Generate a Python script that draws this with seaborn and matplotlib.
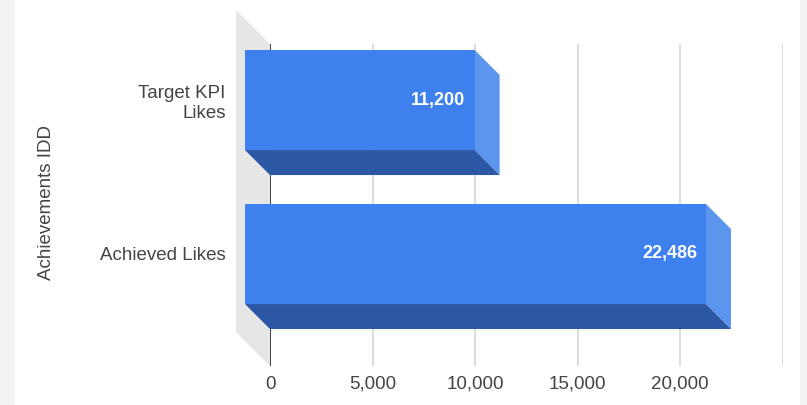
"""
3D-style horizontal bar chart: target vs achieved likes
"""
import numpy as np
import pandas as pd
import matplotlib
matplotlib.use("Agg")
import matplotlib.pyplot as plt
import seaborn as sns
from matplotlib.patches import Polygon, Rectangle
from matplotlib.transforms import ScaledTranslation

# data
categories = ["Target KPI\nLikes", "Achieved Likes"]
likes = [11200, 22486]
x_ticks = [0, 5000, 10000, 15000, 20000, 25000]
x_tick_labels = ["0", "5,000", "10,000", "15,000", "20,000", ""]
axis_title = "Achievements IDD"

FRONT = "#3d80ee"
SIDE = "#5b95ee"
BOTTOM = "#2b57a5"
WALL = "#e6e6e6"
GRID = "#d9d9d9"
TEXT = "#444444"

sns.set_style("white")
plt.rcParams["font.family"] = ["Liberation Sans", "DejaVu Sans"]

W, H = 807, 405
fig = plt.figure(figsize=(W / 100, H / 100), dpi=100)
ax = fig.add_axes([270 / W, (H - 366) / H, (782.5 - 270) / W, (366 - 44) / H])

df = pd.DataFrame({"cat": categories, "likes": likes})
sns.barplot(data=df, x="likes", y="cat", orient="h", width=0.65,
            color=FRONT, saturation=1, ax=ax)
bars = list(ax.patches)

y_top, y_bot = -0.526, 1.565
ax.set_xlim(0, x_ticks[-1])
ax.set_ylim(y_bot, y_top)
ax.set_xlabel("")
ax.set_ylabel("")
sns.despine(ax=ax, left=True, bottom=True)

ax.set_xticks(x_ticks)
ax.set_xticklabels(x_tick_labels)
ax.grid(axis="x", color=GRID, lw=1.3, zorder=1)
ax.grid(axis="y", visible=False)
ax.set_axisbelow(True)
ax.axvline(0, color="#333333", lw=1.3, zorder=1.5)
ax.tick_params(axis="x", length=0, pad=7, labelsize=13.5, labelcolor=TEXT)
ax.tick_params(axis="y", length=0, pad=32, labelsize=13.5, labelcolor=TEXT)


def px_offset(dx_px, dy_px):
    p = ax.transData.transform((0, 0))
    q = ax.transData.inverted().transform(p + np.array([dx_px, dy_px]))
    return q[0], q[1]


dx, dy = px_offset(-25, 25)
wdx, wdy = px_offset(-34, 34)

# left wall
ax.add_patch(Polygon([(0, y_top), (0, y_bot), (wdx, y_bot + wdy), (wdx, y_top + wdy)],
                     closed=True, facecolor=WALL, lw=0, zorder=0.5, clip_on=False))

# bars: shift the front face, add side and bottom faces
for bar, val in zip(bars, likes):
    xa, xb = bar.get_x(), bar.get_x() + bar.get_width()
    ya, yb = bar.get_y(), bar.get_y() + bar.get_height()
    bar.set_x(xa + dx)
    bar.set_y(ya + dy)
    bar.set_clip_on(False)
    bar.set_zorder(4)
    bar.set_linewidth(0)
    ax.add_patch(Polygon([(xb + dx, ya + dy), (xb, ya), (xb, yb), (xb + dx, yb + dy)],
                         closed=True, facecolor=SIDE, lw=0, zorder=3, clip_on=False))
    ax.add_patch(Polygon([(xa + dx, yb + dy), (xb + dx, yb + dy), (xb, yb), (xa, yb)],
                         closed=True, facecolor=BOTTOM, lw=0, zorder=3, clip_on=False))
    ax.annotate(f"{val:,}", xy=(xb + dx, (ya + yb) / 2 + dy), xytext=(-9, 0),
                textcoords="offset pixels", ha="right", va="center",
                color="white", fontsize=13, fontweight="bold", zorder=5)

# category labels sit at the front face
for lbl in ax.get_yticklabels():
    lbl.set_transform(lbl.get_transform() + ScaledTranslation(0, 0.25, fig.dpi_scale_trans))

fig.text(47 / W, 1 - 202 / H, axis_title, rotation=90, ha="center", va="center",
         fontsize=13.5, color=TEXT)

# grey page strips
fig.patches.append(Rectangle((0, 0), 15 / W, 1, transform=fig.transFigure,
                             facecolor="#f2f3f4", lw=0, zorder=-1))
fig.patches.append(Rectangle((800 / W, 0), 7 / W, 1, transform=fig.transFigure,
                             facecolor="#f2f3f4", lw=0, zorder=-1))

fig.savefig("out.png", dpi=100)
plt.close()
